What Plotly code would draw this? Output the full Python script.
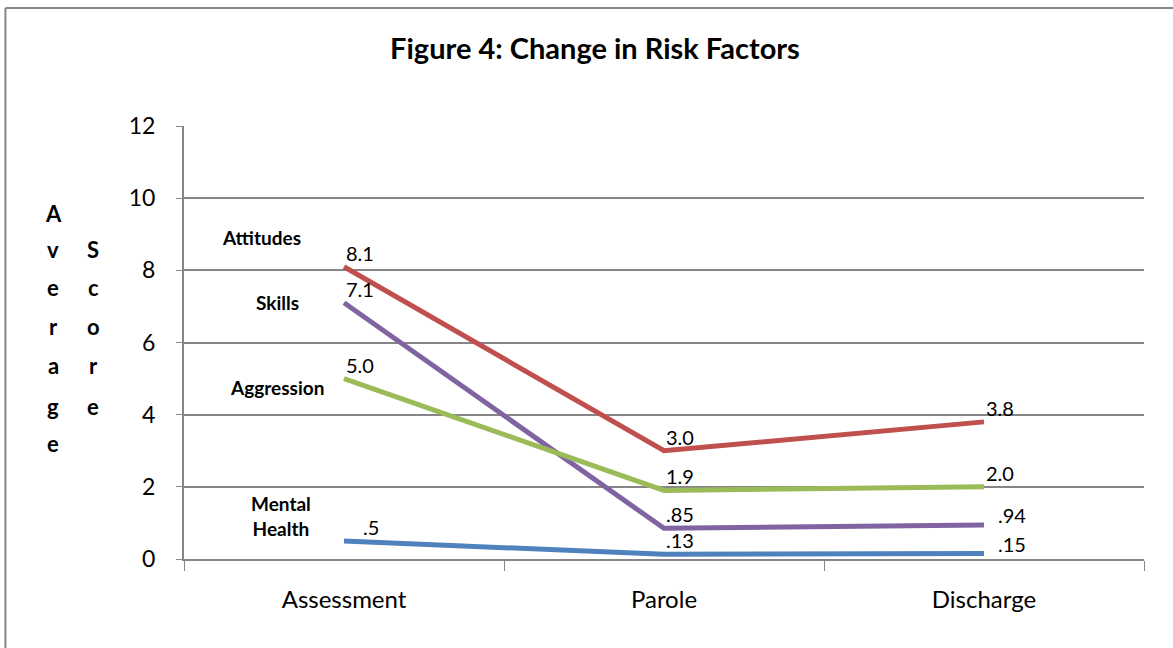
import plotly.graph_objects as go

stages = ["Assessment", "Parole", "Discharge"]

attitudes = [8.1, 3.0, 3.8]
skills = [7.1, 0.85, 0.94]
aggression = [5.0, 1.9, 2.0]
mental_health = [0.5, 0.13, 0.15]

attitudes_text = ["8.1", "3.0", "3.8"]
skills_text = ["7.1", ".85", ".94"]
aggression_text = ["5.0", "1.9", "2.0"]
mental_health_text = [".5", ".13", ".15"]

y_ticks = [0, 2, 4, 6, 8, 10, 12]

FONT = "Lato"

series = [
    ("Attitudes", attitudes, attitudes_text, "#C0504D"),
    ("Skills", skills, skills_text, "#8064A2"),
    ("Aggression", aggression, aggression_text, "#9BBB59"),
    ("Mental Health", mental_health, mental_health_text, "#4F81BD"),
]

# Per-label nudges (px) for value labels that sit further right of their point
label_shift = {
    ("Mental Health", 0): (17, 0),
    ("Skills", 2): (12, -4),
    ("Mental Health", 2): (12, -4),
}

fig = go.Figure()
annotations = []
for name, vals, labels, color in series:
    fig.add_trace(go.Scatter(
        x=stages, y=vals, name=name, mode="lines",
        line=dict(color=color, width=5),
        cliponaxis=False, showlegend=False,
    ))
    for i, (stage, v, lab) in enumerate(zip(stages, vals, labels)):
        dx, dy = label_shift.get((name, i), (0, 0))
        annotations.append(dict(
            text=lab, x=stage, y=v, xref="x", yref="y", showarrow=False,
            xanchor="left", yanchor="bottom", xshift=dx, yshift=dy,
            font=dict(family=FONT, size=20, color="#000000")))

# Series names written beside the first stage
name_labels = [
    ("Attitudes", 0.081, 8.92),
    ("Skills", 0.097, 7.12),
    ("Aggression", 0.097, 4.74),
    ("Mental<br>Health", 0.101, 1.19),
]
annotations += [
    dict(text=t, x=x, y=y, xref="paper", yref="y", showarrow=False,
         xanchor="center", yanchor="middle",
         font=dict(family=FONT, size=19, color="#000000", weight="bold"),
         align="center")
    for t, x, y in name_labels
]

# Vertical axis title, letters stacked in two columns (pixel rows)
title_rows = [213, 249, 287, 326, 365, 406, 443]
for i, ch in enumerate("Average"):
    annotations.append(dict(
        text=ch, x=-(184 - 53) / 960, y=(559 - title_rows[i]) / 433,
        xref="paper", yref="paper", showarrow=False,
        xanchor="center", yanchor="middle",
        font=dict(family=FONT, size=22, color="#000000", weight="bold")))
for i, ch in enumerate("Score"):
    annotations.append(dict(
        text=ch, x=-(184 - 93) / 960, y=(559 - title_rows[i + 1]) / 433,
        xref="paper", yref="paper", showarrow=False,
        xanchor="center", yanchor="middle",
        font=dict(family=FONT, size=22, color="#000000", weight="bold")))

# Chart frame (top and left edges)
shapes = [
    dict(type="line", xref="paper", yref="paper", x0=-0.186, x1=1.1, y0=1.2725, y1=1.2725,
         line=dict(color="#868686", width=2)),
    dict(type="line", xref="paper", yref="paper", x0=-0.186, x1=-0.186, y0=1.2725, y1=-0.3,
         line=dict(color="#868686", width=2)),
]

fig.update_layout(
    width=1173, height=648,
    margin=dict(l=184, r=29, t=126, b=89),
    paper_bgcolor="white", plot_bgcolor="white",
    title=dict(text="<b>Figure 4: Change in Risk Factors</b>", x=(595 - 184) / 960,
               xanchor="center", y=0.925, yanchor="middle", xref="paper",
               font=dict(family=FONT, size=29, color="#000000")),
    annotations=annotations,
    shapes=shapes,
    xaxis=dict(
        type="category", range=[-0.5, 2.5], tickson="boundaries",
        ticks="outside", ticklen=10, tickcolor="#868686", tickwidth=1,
        showline=True, linecolor="#868686", linewidth=2, showgrid=False,
        tickfont=dict(family=FONT, size=24, color="#000000"),
        ticklabelstandoff=18,
    ),
    yaxis=dict(
        range=[0, 12], tickvals=y_ticks,
        ticks="outside", ticklen=6, tickcolor="#868686",
        showline=True, linecolor="#868686", linewidth=2,
        showgrid=True, gridcolor="#868686", gridwidth=1.5, zeroline=False,
        tickfont=dict(family=FONT, size=23, color="#000000"),
        ticklabelstandoff=16,
    ),
)

fig.write_html("out.html")
